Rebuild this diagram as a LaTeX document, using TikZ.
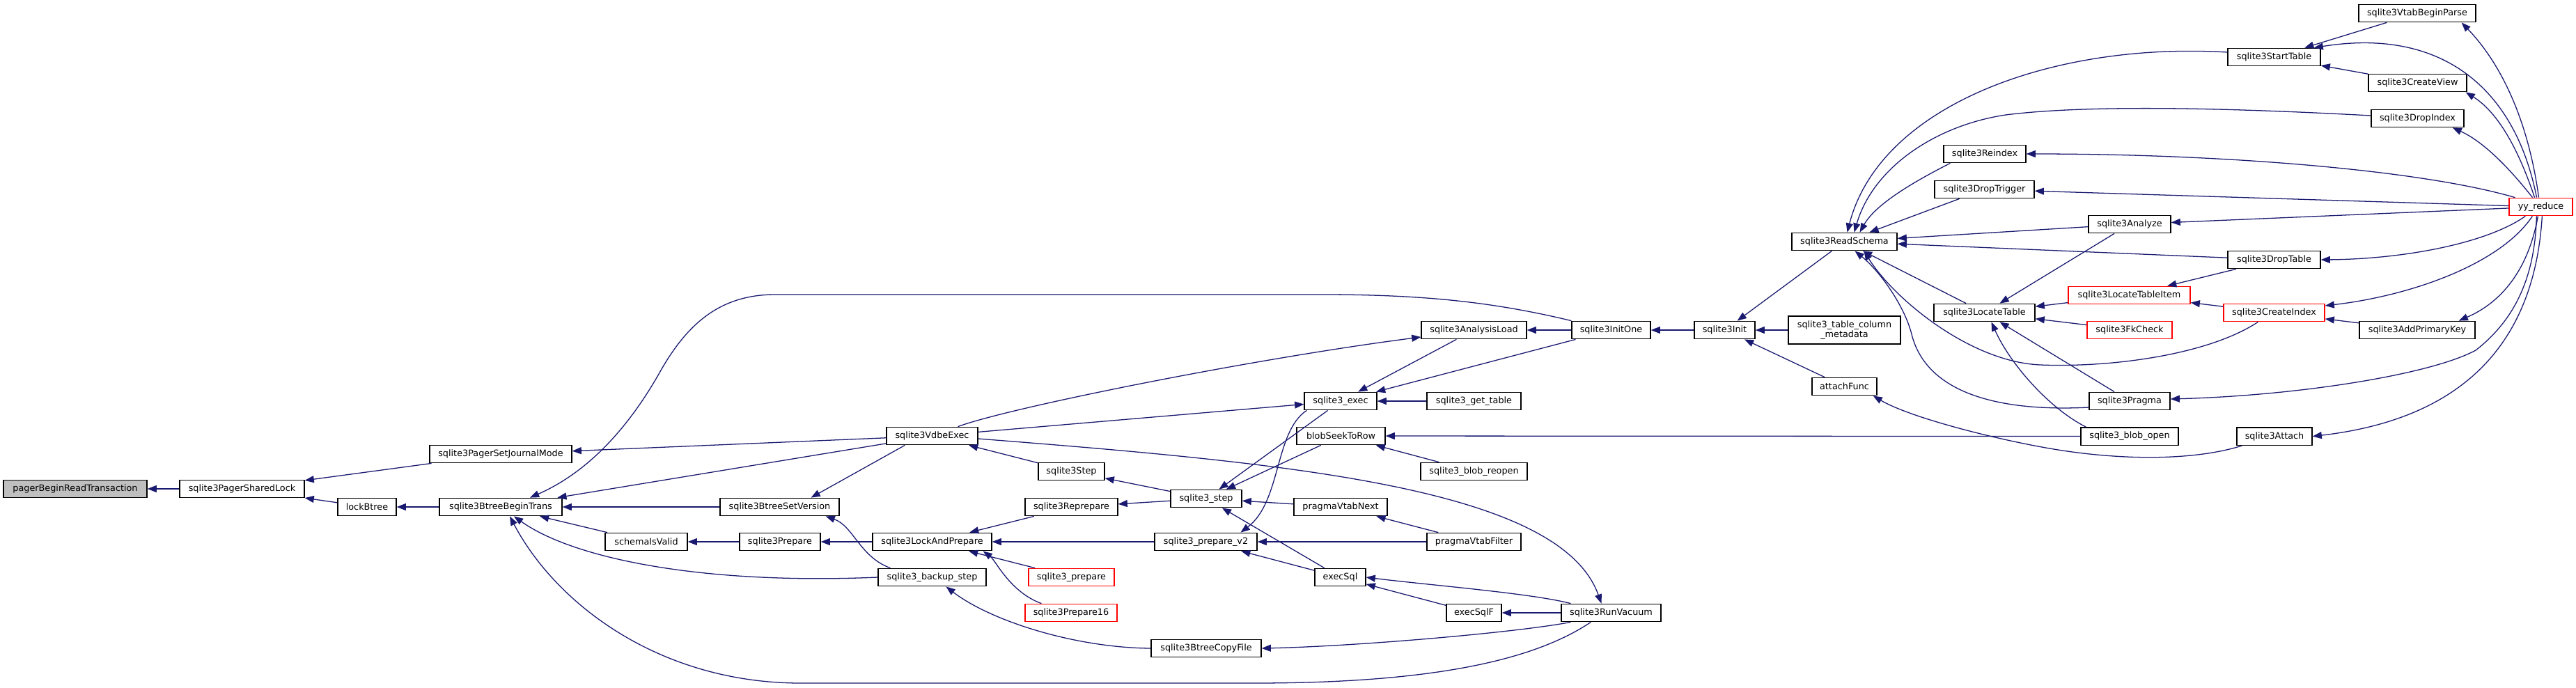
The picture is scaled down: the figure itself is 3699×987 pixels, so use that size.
\documentclass[tikz,border=0pt]{standalone}
\usepackage{fontspec}
\newfontfamily\dejavu{DejaVu Sans}
\usetikzlibrary{arrows.meta,calc}
\definecolor{edgeblue}{HTML}{191970}
\definecolor{startgray}{HTML}{BFBFBF}
\tikzset{
  fnbox/.style={draw=black, fill=white, line width=0.64pt, inner sep=0pt,
    minimum height=12.75pt, font=\dejavu\fontsize{6.4pt}{7.7pt}\selectfont, text=black},
  redbox/.style={draw=red},
  startbox/.style={fill=startgray},
  calledge/.style={draw=edgeblue, line width=0.64pt, -{Triangle[length=6.6pt,width=5pt]}},
}
\newcommand\mkfn[6][]{%
  \pgfmathsetmacro\fnx{(#3+#4)/2}%
  \pgfmathsetmacro\fnw{(#4-#3)*0.5}%
  \node[fnbox,minimum width=\fnw pt,#1] (#2) at (\fnx,#5) {#6};}
\begin{document}
\begin{tikzpicture}[x=0.5pt,y=-0.5pt]
\useasboundingbox (0,0) rectangle (3699,987);
\fill[white] (0,0) rectangle (3699,987);
% ---------- nodes ----------
\mkfn[startbox]{pbrt}{5}{211}{702}{pagerBeginReadTransaction}
\mkfn{sharedlock}{258}{437}{702}{sqlite3PagerSharedLock}
\mkfn{lockbtree}{485}{569}{728}{lockBtree}
\mkfn{psjm}{617}{821}{652}{sqlite3PagerSetJournalMode}
\mkfn{bbt}{631}{807}{728}{sqlite3BtreeBeginTrans}
\mkfn{siv}{869}{987}{778}{schemaIsValid}
\mkfn{bsv}{1034}{1205}{728}{sqlite3BtreeSetVersion}
\mkfn{prep}{1062}{1178}{778}{sqlite3Prepare}
\mkfn{vdbe}{1273}{1404}{626}{sqlite3VdbeExec}
\mkfn{lap}{1253}{1424}{778}{sqlite3LockAndPrepare}
\mkfn{backup}{1261}{1416}{829}{sqlite3\_backup\_step}
\mkfn{step}{1491}{1586}{677}{sqlite3Step}
\mkfn{reprep}{1472}{1605}{728}{sqlite3Reprepare}
\mkfn[redbox]{sprep}{1477}{1600}{829}{sqlite3\_prepare}
\mkfn[redbox]{p16}{1472}{1604}{880}{sqlite3Prepare16}
\mkfn{sstep}{1681}{1783}{716}{sqlite3\_step}
\mkfn{pv2}{1658}{1805}{778}{sqlite3\_prepare\_v2}
\mkfn{bcf}{1653}{1811}{931}{sqlite3BtreeCopyFile}
\mkfn{exec}{1873}{1977}{576}{sqlite3\_exec}
\mkfn{bstr}{1862}{1989}{626}{blobSeekToRow}
\mkfn{vtn}{1858}{1992}{728}{pragmaVtabNext}
\mkfn{esql}{1888}{1961}{829}{execSql}
\mkfn{al}{2041}{2192}{474}{sqlite3AnalysisLoad}
\mkfn{gt}{2049}{2184}{576}{sqlite3\_get\_table}
\mkfn{reopen}{2040}{2193}{677}{sqlite3\_blob\_reopen}
\mkfn{vtf}{2049}{2184}{778}{pragmaVtabFilter}
\mkfn{esqlf}{2077}{2156}{880}{execSqlF}
\mkfn{initone}{2257}{2370}{474}{sqlite3InitOne}
\mkfn{vac}{2242}{2385}{880}{sqlite3RunVacuum}
\mkfn{init}{2433}{2520}{474}{sqlite3Init}
\node[fnbox,minimum width=80.5pt,minimum height=20pt,align=center,
  font=\dejavu\fontsize{6.4pt}{7pt}\selectfont] (tcm) at (2648.5,474)
  {sqlite3\_table\_column\\\_metadata};
\mkfn{af}{2602}{2695}{555}{attachFunc}
\mkfn{rs}{2573}{2724}{347}{sqlite3ReadSchema}
\mkfn{reindex}{2791}{2909}{221}{sqlite3Reindex}
\mkfn{dtrig}{2778}{2921}{272}{sqlite3DropTrigger}
\mkfn{analyze}{2999}{3117}{322}{sqlite3Analyze}
\mkfn{lt}{2777}{2922}{449}{sqlite3LocateTable}
\mkfn[redbox]{lti}{2970}{3145}{424}{sqlite3LocateTableItem}
\mkfn[redbox]{fk}{2997}{3119}{474}{sqlite3FkCheck}
\mkfn{pragma}{3000}{3116}{576}{sqlite3Pragma}
\mkfn{bopen}{2988}{3128}{626.6}{sqlite3\_blob\_open}
\mkfn{st}{3199}{3332}{82}{sqlite3StartTable}
\mkfn{dtab}{3199}{3332}{373}{sqlite3DropTable}
\mkfn[redbox]{ci}{3193}{3338}{449}{sqlite3CreateIndex}
\mkfn{attach}{3212}{3320}{626.6}{sqlite3Attach}
\mkfn{vbp}{3387}{3555}{19}{sqlite3VtabBeginParse}
\mkfn{cv}{3401}{3542}{119}{sqlite3CreateView}
\mkfn{di}{3405}{3538}{170}{sqlite3DropIndex}
\mkfn{apk}{3388}{3554}{474}{sqlite3AddPrimaryKey}
\mkfn[redbox]{yy}{3603}{3694}{297}{yy\_reduce}
% ---------- edges ----------
\draw[calledge] (sharedlock) -- (pbrt);
\draw[calledge] (psjm) -- (sharedlock);
\draw[calledge] (lockbtree) -- (sharedlock);
\draw[calledge] (bbt) -- (lockbtree);
\draw[calledge] (vdbe) -- (psjm);
\draw[calledge] (vdbe) -- (bbt);
\draw[calledge] (initone.north west) .. controls (2150,435) and (2050,423) .. (1900,423)
  -- (1113,423) .. controls (1030,423) and (985,470) .. (950,530)
  .. controls (900,620) and (840,680) .. ($(bbt.north)+(42,0)$);
\draw[calledge] (bsv) -- (bbt);
\draw[calledge] (siv) -- (bbt);
\draw[calledge] (backup.west) .. controls (1000,840) and (820,800) .. ($(bbt.south)+(19,0)$);
\draw[calledge] ($(vac.south west)+(43,0)$) .. controls (2200,950) and (2050,981) .. (1800,981)
  -- (1150,981) .. controls (950,981) and (800,870) .. ($(bbt.south)+(13,0)$);
\draw[calledge] ($(vdbe.south west)+(27,0)$) -- ($(bsv.north)+(45,0)$);
\draw[calledge] ($(backup.north west)+(18,0)$) .. controls (1235,800) and (1225,755) .. ($(bsv.south east)+(-20,0)$);
\draw[calledge] (prep) -- (siv);
\draw[calledge] (lap) -- (prep);
\draw[calledge] (step) -- (vdbe);
\draw[calledge] (reprep) -- (lap);
\draw[calledge] (pv2) -- (lap);
\draw[calledge] (sprep) -- (lap);
\draw[calledge] ($(p16.north west)+(24,0)$) .. controls (1450,850) and (1430,805) .. ($(lap.south east)+(-13,0)$);
\draw[calledge] (bcf.west) .. controls (1540,930) and (1420,890) .. ($(backup.south)+(20,0)$);
\draw[calledge] (sstep) -- (step);
\draw[calledge] (sstep) -- (reprep);
\draw[calledge] (exec) -- (sstep);
\draw[calledge] (bstr) -- (sstep);
\draw[calledge] (vtn) -- (sstep);
\draw[calledge] (esql) -- (sstep);
\draw[calledge] ($(exec.south west)+(4,0)$) .. controls (1830,620) and (1840,720) .. ($(pv2.north)+(50,0)$);
\draw[calledge] (vtf) -- (pv2);
\draw[calledge] (esql) -- (pv2);
\draw[calledge] ($(vac.south west)+(14,0)$) .. controls (2180,908) and (1950,928) .. (bcf.east);
\draw[calledge] (vdbe) -- (exec);
\draw[calledge] ($(vdbe.north)+(37,0)$) .. controls (1450,585) and (1800,515) .. ($(al.west)+(0,10)$);
\draw[calledge] (al) -- (exec);
\draw[calledge] (initone) -- (exec);
\draw[calledge] (initone) -- (al);
\draw[calledge] (gt) -- (exec);
\draw[calledge] (init) -- (initone);
\draw[calledge] (tcm) -- (init);
\draw[calledge] (af) -- (init);
\draw[calledge] (rs) -- (init);
\draw[calledge] ($(vdbe.east)+(0,4)$) .. controls (1850,665) and (2240,700) .. ($(vac.north)+(-14,0)$);
\draw[calledge] ($(vac.north west)+(14,0)$) .. controls (2200,852) and (2050,840) .. (esql.east);
\draw[calledge] (esqlf) -- (esql);
\draw[calledge] (vac) -- (esqlf);
\draw[calledge] (reopen) -- (bstr);
\draw[calledge] (bopen) -- (bstr);
\draw[calledge] (vtf) -- (vtn);
\draw[calledge] ($(attach.south west)+(8,0)$) .. controls (3150,662) and (3040,662) .. (2932,642)
  .. controls (2850,627) and (2740,598) .. ($(af.south east)+(-6,0)$);
% right cluster
\draw[calledge] ($(st.west)+(0,-7)$) .. controls (2950,60) and (2700,150) .. ($(rs.north)+(4,0)$);
\draw[calledge] ($(di.west)+(0,-4)$) .. controls (3200,155) and (3000,150) .. (2880,165)
  .. controls (2780,180) and (2690,240) .. ($(rs.north)+(14,0)$);
\draw[calledge] ($(reindex.south west)+(10,0)$) .. controls (2760,255) and (2695,290) .. ($(rs.north)+(22,0)$);
\draw[calledge] (dtrig) -- (rs);
\draw[calledge] (analyze) -- (rs);
\draw[calledge] (dtab) -- (rs);
\draw[calledge] (lt) -- (rs);
\draw[calledge] ($(ci.south west)+(50,0)$) .. controls (3170,510) and (3030,528) .. (2930,524)
  .. controls (2830,520) and (2720,430) .. ($(rs.south)+(28,0)$);
\draw[calledge] ($(pragma.west)+(0,9)$) .. controls (2860,592) and (2765,560) .. (2745,480)
  .. controls (2735,440) and (2700,390) .. ($(rs.south)+(15,0)$);
\draw[calledge] ($(yy.north)+(-3,0)$) .. controls (3630,170) and (3590,90) .. ($(vbp.south east)+(-21,0)$);
\draw[calledge] ($(yy.north)+(-6,0)$) .. controls (3610,120) and (3500,40) .. ($(st.north east)+(-10,0)$);
\draw[calledge] (vbp) -- (st);
\draw[calledge] (cv) -- (st);
\draw[calledge] ($(yy.north)+(-9,0)$) .. controls (3615,210) and (3585,160) .. ($(cv.south east)+(-2,0)$);
\draw[calledge] ($(yy.north)+(-12,0)$) .. controls (3610,250) and (3570,205) .. ($(di.south east)+(-17,0)$);
\draw[calledge] ($(yy.north west)+(9,0)$) .. controls (3480,245) and (3200,221) .. (reindex.east);
\draw[calledge] (yy) -- (dtrig);
\draw[calledge] (yy) -- (analyze);
\draw[calledge] ($(yy.south west)+(24,0)$) .. controls (3570,350) and (3450,372) .. (dtab.east);
\draw[calledge] ($(yy.south west)+(34,0)$) .. controls (3590,380) and (3460,425) .. ($(ci.east)+(0,-10)$);
\draw[calledge] ($(yy.south west)+(42,0)$) .. controls (3630,390) and (3590,435) .. ($(apk.north east)+(-24,0)$);
\draw[calledge] ($(yy.south west)+(40,0)$) .. controls (3640,400) and (3610,460) .. (3555,503)
  .. controls (3490,538) and (3300,568) .. ($(pragma.east)+(0,-3)$);
\draw[calledge] ($(yy.south west)+(48,0)$) .. controls (3640,480) and (3550,600) .. (attach.east);
\draw[calledge] (lti) -- (lt);
\draw[calledge] (fk) -- (lt);
\draw[calledge] (analyze) -- (lt);
\draw[calledge] (pragma) -- (lt);
\draw[calledge] ($(bopen.north west)+(8,0)$) .. controls (2940,585) and (2885,520) .. ($(lt.south)+(10,0)$);
\draw[calledge] (dtab) -- (lti);
\draw[calledge] (ci) -- (lti);
\draw[calledge] (apk) -- (ci);
\end{tikzpicture}
\end{document}
